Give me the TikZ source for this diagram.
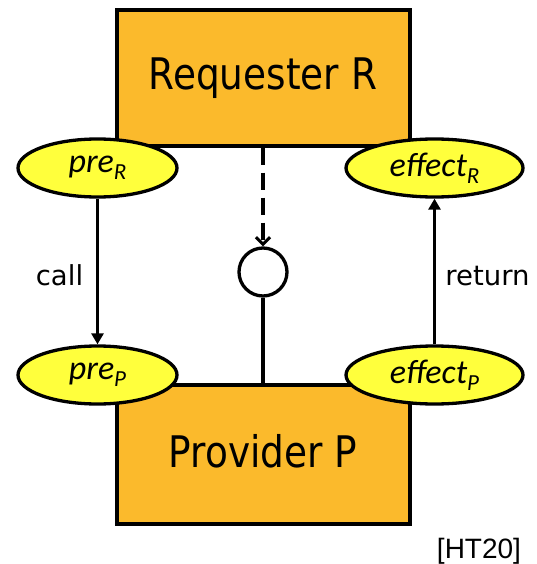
\documentclass[tikz,border=0pt]{standalone}
\usepackage{fontspec}
\setmainfont{DejaVu Sans}
\newfontfamily\calfont{Carlito}
\newfontfamily\arialfont{Liberation Sans}
\usetikzlibrary{arrows.meta,shapes.geometric}
\definecolor{boxorange}{RGB}{251,186,44}
\definecolor{ellyellow}{RGB}{255,255,60}
\tikzset{
  compbox/.style={draw=black, line width=3.3pt, fill=boxorange, minimum width=293pt, inner sep=0pt, rectangle},
  cond/.style={draw=black, line width=3.3pt, fill=ellyellow, ellipse, inner sep=0pt, minimum height=58pt,
    font=\calfont\itshape\fontsize{34}{36}\selectfont},
  boxlabel/.style={anchor=base, inner sep=0pt, font=\fontsize{43.5}{50}\selectfont},
  edgelabel/.style={anchor=base, inner sep=0pt, font=\fontsize{27.5}{30}\selectfont},
  conn/.style={line width=3.3pt, -{Triangle[length=11pt,width=12pt]}},
  dconn/.style={line width=3.3pt, dash pattern=on 17pt off 8pt, -{Straight Barb[length=7pt,width=14pt,line width=3pt]}},
}
\newcommand{\subR}[1]{{\fontsize{23}{23}\selectfont\raisebox{-7pt}{#1}}}
\begin{document}
\begin{tikzpicture}[x=1pt,y=-1pt]
\useasboundingbox (0,0) rectangle (537,564);
% boxes
\node[compbox, minimum height=136pt] (req) at (263.5,78) {};
\node[compbox, minimum height=139pt] (prov) at (263.5,454.5) {};
\node[boxlabel] (reqlab) at (263,90) {\scalebox{0.86}[1]{Requester R}};
\node[boxlabel] (provlab) at (263,467) {\scalebox{0.86}[1]{Provider P}};
% interface circle
\node[circle, draw=black, line width=3.3pt, fill=white, minimum size=48pt, inner sep=0pt] (iface) at (263,272) {};
\draw[line width=3.3pt] (iface.south) -- (iface.south |- prov.north);
\draw[dconn] (iface.north |- req.south) -- (iface.north);
% conditions
\node[cond, minimum width=159pt] (preR) at (97.5,168) {pre\subR{R}};
\node[cond, minimum width=177pt] (effR) at (434.5,168) {effect\subR{R}};
\node[cond, minimum width=159pt] (preP) at (97.5,375) {pre\subR{P}};
\node[cond, minimum width=177pt] (effP) at (434.5,375) {effect\subR{P}};
% connectors
\draw[conn] (preR) -- (preP);
\draw[conn] (effP) -- (effR);
\node[edgelabel] (call) at (59.5,285) {call};
\node[edgelabel] (ret) at (487.5,285) {return};
\node[anchor=base, inner sep=0pt, font=\arialfont\fontsize{28}{30}\selectfont] (cite) at (479,558) {[HT20]};
\end{tikzpicture}
\end{document}
